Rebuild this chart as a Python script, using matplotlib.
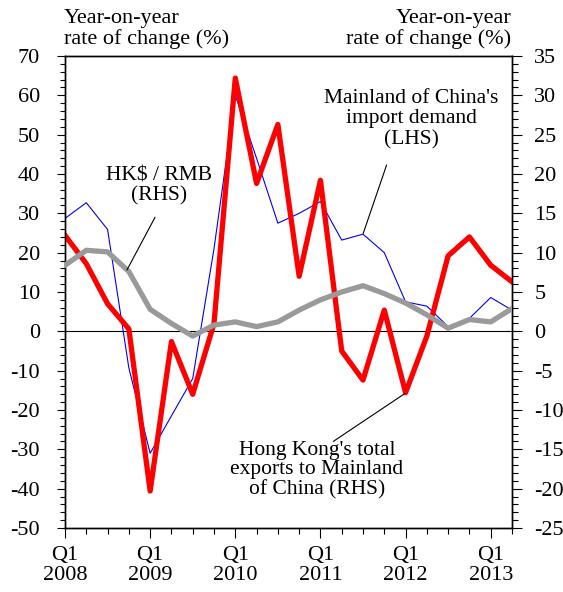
import matplotlib
matplotlib.use("Agg")
import matplotlib.pyplot as plt
import numpy as np

plt.rcParams['font.family'] = ['Liberation Serif', 'DejaVu Serif']
plt.rcParams['axes.unicode_minus'] = False

# quarterly, Q1 2008 .. Q2 2013
quarters = np.arange(22)
year_labels = ['Q1\n2008', 'Q1\n2009', 'Q1\n2010', 'Q1\n2011', 'Q1\n2012', 'Q1\n2013']

# HK total exports to Mainland (RHS)
hk_exports = [12.2, 8.6, 3.5, 0.3, -20.3, -1.3, -8.0, 1.0, 32.2, 18.8, 26.3, 7.0,
              19.2, -2.5, -6.2, 2.7, -7.8, -0.6, 9.6, 12.0, 8.4, 6.3]
# Mainland import demand (LHS)
mainland_imports = [28.7, 32.7, 25.9, -9.3, -31.0, -21.5, -12.0, 21.0, 60.0, 44.0, 27.5, 30.0,
                    33.0, 23.2, 24.7, 20.0, 7.5, 6.4, 1.2, 3.3, 8.6, 5.4]
# HK$ / RMB (RHS)
hkd_rmb = [8.4, 10.3, 10.1, 7.6, 2.8, 1.0, -0.6, 0.8, 1.2, 0.6, 1.2, 2.7,
           4.0, 5.0, 5.8, 4.8, 3.6, 2.1, 0.4, 1.5, 1.2, 2.9]

fig = plt.figure(figsize=(5.63, 5.92), dpi=100)
ax = fig.add_axes([65/563, 64/592, 447/563, 472/592])
ax2 = ax.twinx()

fs = 16
afs = 15.5

ax.axhline(0, color='black', lw=0.8, zorder=1)
ax.plot(quarters, mainland_imports, color='#0000ff', lw=0.8, zorder=2)
# grey sits on top of the red line in the original
ax2.plot(quarters, hk_exports, color='#ff0000', lw=3.8, zorder=2)
ax2.plot(quarters, hkd_rmb, color='#9a9a9a', lw=3.8, zorder=3)

ax.set_xlim(0, 21)
ax.set_ylim(-50, 70)
ax2.set_ylim(-25, 35)

ax.set_xticks(quarters[::4])
ax.set_xticklabels(year_labels, linespacing=1.05)
ax.set_xticks(quarters, minor=True)
ax.set_yticks(np.arange(-50, 71, 10))
ax.set_yticks(np.arange(-50, 71, 2), minor=True)
ax2.set_yticks(np.arange(-25, 36, 5))
ax2.set_yticks(np.arange(-25, 36, 1), minor=True)

ax.tick_params(axis='y', which='major', direction='out', length=6, width=0.8, labelsize=fs, pad=12)
ax.tick_params(axis='y', which='minor', direction='out', length=3.5, width=0.8)
ax.tick_params(axis='x', which='major', direction='out', length=7, width=0.8, labelsize=fs, pad=6)
ax.tick_params(axis='x', which='minor', direction='out', length=4.5, width=0.8)
ax2.tick_params(axis='y', which='major', direction='out', length=7, width=0.8, labelsize=fs, pad=9)
ax2.tick_params(axis='y', which='minor', direction='out', length=4.5, width=0.8)

for s in ax.spines.values():
    s.set_linewidth(1.0)
for s in ax2.spines.values():
    s.set_linewidth(1.0)

fig.text(64/563, 1 - 9/592, 'Year-on-year\nrate of change (%)', ha='left', va='top',
         fontsize=fs, linespacing=1.1)
fig.text(511/563, 1 - 9/592, 'Year-on-year\nrate of change (%)', ha='right', va='top',
         fontsize=fs, linespacing=1.1, multialignment='right')

# leader lines
lead = dict(arrowstyle='-', color='black', lw=0.8, shrinkA=0, shrinkB=0)
ax2.annotate('', xy=(2.91, 7.8), xytext=(4.23, 14.5), arrowprops=lead)
ax.annotate('', xy=(14.01, 24.9), xytext=(15.11, 42.3), arrowprops=lead)
ax2.annotate('', xy=(15.97, -7.9), xytext=(12.6, -14.0), arrowprops=lead)

# labels
ax2.text(4.42, 21.0, 'HK$ / RMB\n(RHS)', ha='center', va='top', fontsize=afs, linespacing=1.1)
ax.text(16.26, 61.6, "Mainland of China's\nimport demand\n(LHS)", ha='center', va='top',
        fontsize=afs, linespacing=1.1)
ax2.text(11.84, -13.9, "Hong Kong's total\nexports to Mainland\nof China (RHS)", ha='center',
         va='top', fontsize=afs, linespacing=1.05)

fig.savefig('out.png', dpi=100)
